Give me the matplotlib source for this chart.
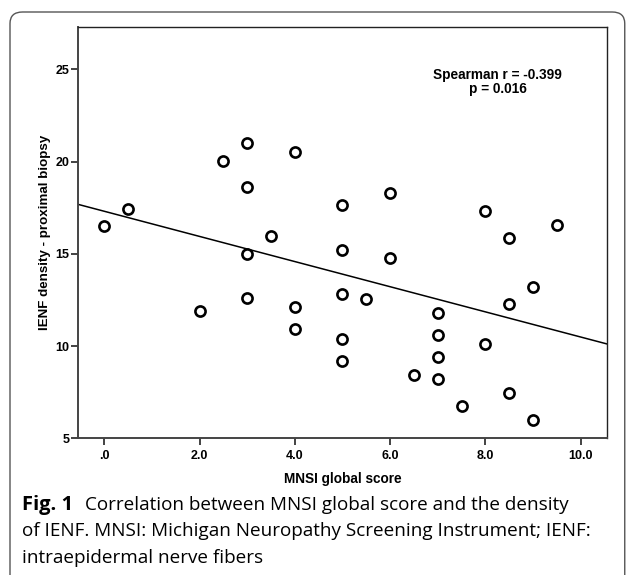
import numpy as np
import matplotlib
matplotlib.use("Agg")
import matplotlib.pyplot as plt
from matplotlib.patches import FancyBboxPatch

# Data
mnsi_score = [0, 0.5, 2, 2.5, 3, 3, 3, 3, 3.5, 4, 4, 4, 5, 5, 5, 5, 5, 5.5,
              6, 6, 6.5, 7, 7, 7, 7, 7.5, 8, 8, 8.5, 8.5, 8.5, 9, 9, 9.5]
ienf_density = [16.5, 17.45, 11.9, 20.05, 21.0, 18.6, 15.0, 12.6, 15.95, 20.5,
                12.1, 10.9, 17.65, 15.22, 12.8, 10.38, 9.2, 12.55, 18.3, 14.75,
                8.43, 11.8, 10.6, 9.4, 8.2, 6.73, 17.32, 10.1, 15.87, 12.26,
                7.44, 13.22, 6.0, 16.54]
# fit line as drawn in the chart
fit_intercept = 17.31
fit_slope = -0.682
x_ticks = [0, 2, 4, 6, 8, 10]
x_tick_labels = [".0", "2.0", "4.0", "6.0", "8.0", "10.0"]
y_ticks = [5, 10, 15, 20, 25]
annotation = "Spearman r = -0.399\np = 0.016"
caption_bold = "Fig. 1"
caption_rest = ("Correlation between MNSI global score and the density\n"
                "of IENF. MNSI: Michigan Neuropathy Screening Instrument; IENF:\n"
                "intraepidermal nerve fibers")

W, H = 627, 575
fig = plt.figure(figsize=(W / 100, H / 100), dpi=100)

# rounded frame around figure + caption
frame = FancyBboxPatch((10 / W, -0.05), (626 - 10) / W - 0.002, (H - 12) / H + 0.05,
                       boxstyle="round,pad=0,rounding_size=0.02",
                       transform=fig.transFigure, fill=False,
                       edgecolor="#555555", linewidth=1.0, clip_on=False)
fig.patches.append(frame)

ax = fig.add_axes([78 / W, (H - 438.3) / H, (607 - 78) / W, (438.3 - 27) / H])
x = np.array(mnsi_score)
y = np.array(ienf_density)
ax.set_xlim(-0.55, 10.55)
ax.set_ylim(5, 27.3)

xl = np.array(ax.get_xlim())
ax.plot(xl, fit_intercept + fit_slope * xl, color="black", linewidth=1.1, zorder=2)

ax.plot(x, y, linestyle="none", marker="o", markersize=7.3,
        markerfacecolor="white", markeredgecolor="black",
        markeredgewidth=1.9, zorder=3)

bold = dict(family="Liberation Sans", fontweight="bold")
ax.set_xticks(x_ticks)
ax.set_xticklabels(x_tick_labels, fontsize=9, **bold)
ax.set_yticks(y_ticks)
ax.set_yticklabels([str(v) for v in y_ticks], fontsize=9, **bold)
ax.tick_params(axis="both", direction="out", length=5.2, width=1.2,
               color="#222222")
ax.tick_params(axis="x", pad=3.5)
ax.tick_params(axis="y", pad=1)

for side in ["left", "bottom"]:
    ax.spines[side].set_linewidth(1.4)
    ax.spines[side].set_color("#444444")
for side in ["top", "right"]:
    ax.spines[side].set_linewidth(1.0)
    ax.spines[side].set_color("#222222")

ax.set_xlabel("MNSI global score", fontsize=9.8, labelpad=7, **bold)
ax.set_ylabel("IENF density - proximal biopsy", fontsize=9.6, labelpad=3, **bold)

ax.text(497.7 / W, (H - 82) / H, annotation, transform=fig.transFigure,
        ha="center", va="center", fontsize=9.8, linespacing=1.0, **bold)

# caption
fs = 13.6
x0 = 22
fig.text(x0 / W, (H - 510) / H, caption_bold, fontsize=14.5,
         fontweight="bold", family="Open Sans", va="baseline", ha="left")
lines = caption_rest.split("\n")
fig.text(85 / W, (H - 510) / H, lines[0], fontsize=fs,
         family="Open Sans", va="baseline", ha="left")
fig.text(x0 / W, (H - 536.5) / H, lines[1], fontsize=fs,
         family="Open Sans", va="baseline", ha="left")
fig.text(x0 / W, (H - 563) / H, lines[2], fontsize=fs,
         family="Open Sans", va="baseline", ha="left")

fig.savefig("out.png", dpi=100)
